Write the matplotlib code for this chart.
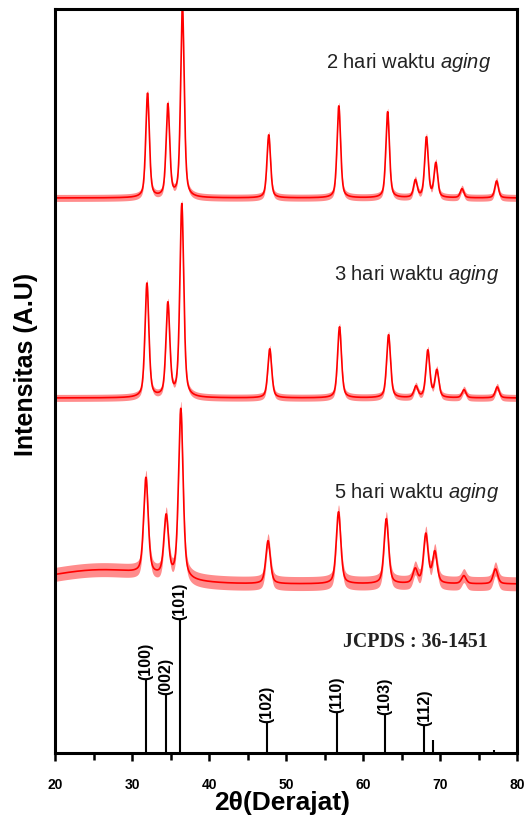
import matplotlib.pyplot as plt
import numpy as np

plt.rcParams['font.family'] = ['Liberation Sans', 'DejaVu Sans']
plt.rcParams['mathtext.fontset'] = 'custom'
plt.rcParams['mathtext.rm'] = 'Liberation Sans'
plt.rcParams['mathtext.it'] = 'Liberation Sans:italic'

# peak positions (2theta, deg) and heights (a.u.)
labels = ['2 hari waktu', '3 hari waktu', '5 hari waktu']
baselines = [555, 355, 169]
noise_amp = [3.5, 3.5, 7.0]
fwhm = [0.55, 0.6, 0.7]

centers_2d = [32.02, 34.66, 36.55, 47.76, 56.86, 63.20, 66.80, 68.24, 69.46, 72.86, 77.35]
heights_2d = [104, 92, 192, 63, 92, 86, 17, 60, 34, 9, 17]

centers_3d = [31.94, 34.66, 36.47, 47.89, 56.95, 63.32, 66.87, 68.42, 69.59, 73.12, 77.43]
heights_3d = [114, 93, 193, 49, 71, 63, 11, 47, 27, 8, 11]

centers_5d = [31.81, 34.44, 36.34, 47.67, 56.82, 63.03, 66.78, 68.16, 69.33, 73.10, 77.20]
heights_5d = [96, 60, 170, 43, 72, 65, 14, 49, 31, 8, 15]
# broad amorphous hump under the 5 day pattern: centre, height, width
hump_5d = [26.0, 14, 16.0]

# JCPDS 36-1451 reference lines
jcpds_pos = [31.77, 34.42, 36.25, 47.54, 56.60, 62.86, 67.96, 69.10, 76.95]
jcpds_int = [73, 58, 133, 30, 40, 38, 27, 13, 3]
jcpds_hkl = ['(100)', '(002)', '(101)', '(102)', '(110)', '(103)', '(112)', '', '']


def pattern(x, centers, heights, w, eta=0.5):
    y = np.zeros_like(x)
    for c, h in zip(centers, heights):
        d = (x - c) / w
        y += h * (eta / (1 + 4 * d ** 2) + (1 - eta) * np.exp(-4 * np.log(2) * d ** 2))
    return y


tt = np.linspace(20, 80, 3000)
series = [(centers_2d, heights_2d), (centers_3d, heights_3d), (centers_5d, heights_5d)]

fig = plt.figure(figsize=(5.25, 8.2), dpi=100)
ax = fig.add_axes([55 / 525, 1 - 754 / 820, 462 / 525, 744 / 820])

for i, (cs, hs) in enumerate(series):
    y = baselines[i] + pattern(tt, cs, hs, fwhm[i])
    if i == 2:
        y += hump_5d[1] * np.exp(-4 * np.log(2) * ((tt - hump_5d[0]) / hump_5d[2]) ** 2)
    ax.fill_between(tt, y - noise_amp[i], y + noise_amp[i], color='#ff0000',
                    alpha=0.45, lw=0)
    ax.plot(tt, y, color='#ff0000', lw=1.2)

text_pos = [(76.6, 692), (77.7, 480), (77.7, 261)]
for lab, (tx, ty) in zip(labels, text_pos):
    ax.text(tx, ty, lab + r' $\it{aging}$', ha='right', va='center', fontsize=14.5,
            color='#222222')

ax.vlines(jcpds_pos, 0, jcpds_int, color='black', lw=1.5)
for p, h, hkl in zip(jcpds_pos, jcpds_int, jcpds_hkl):
    if hkl:
        ax.text(p, h + 1, hkl, rotation=90, ha='center', va='bottom',
                fontsize=11.5, fontweight='bold')
ax.text(76.2, 112, 'JCPDS : 36-1451', ha='right', va='center', fontsize=14.3,
        fontweight='bold', family=['Liberation Serif', 'DejaVu Serif'], color='#222222')

ax.set_xlim(20, 80)
ax.set_ylim(0, 744)
ax.set_yticks([])
ax.set_xticks(np.arange(20, 81, 10))
ax.set_xticks(np.arange(25, 80, 10), minor=True)
ax.tick_params(axis='x', which='major', direction='out', length=6, width=1.8,
               labelsize=10, pad=11)
ax.tick_params(axis='x', which='minor', direction='out', length=5, width=1.8)
for t in ax.get_xticklabels():
    t.set_fontweight('bold')
for s in ax.spines.values():
    s.set_linewidth(2.2)

ax.set_xlabel('2θ(Derajat)', fontsize=19, fontweight='bold', va='center')
ax.xaxis.set_label_coords(0.491, -0.066)
ax.set_ylabel('Intensitas (A.U)', fontsize=18, fontweight='bold', va='center')
ax.yaxis.set_label_coords(-0.063, 0.523)

fig.savefig('out.png', dpi=100)
